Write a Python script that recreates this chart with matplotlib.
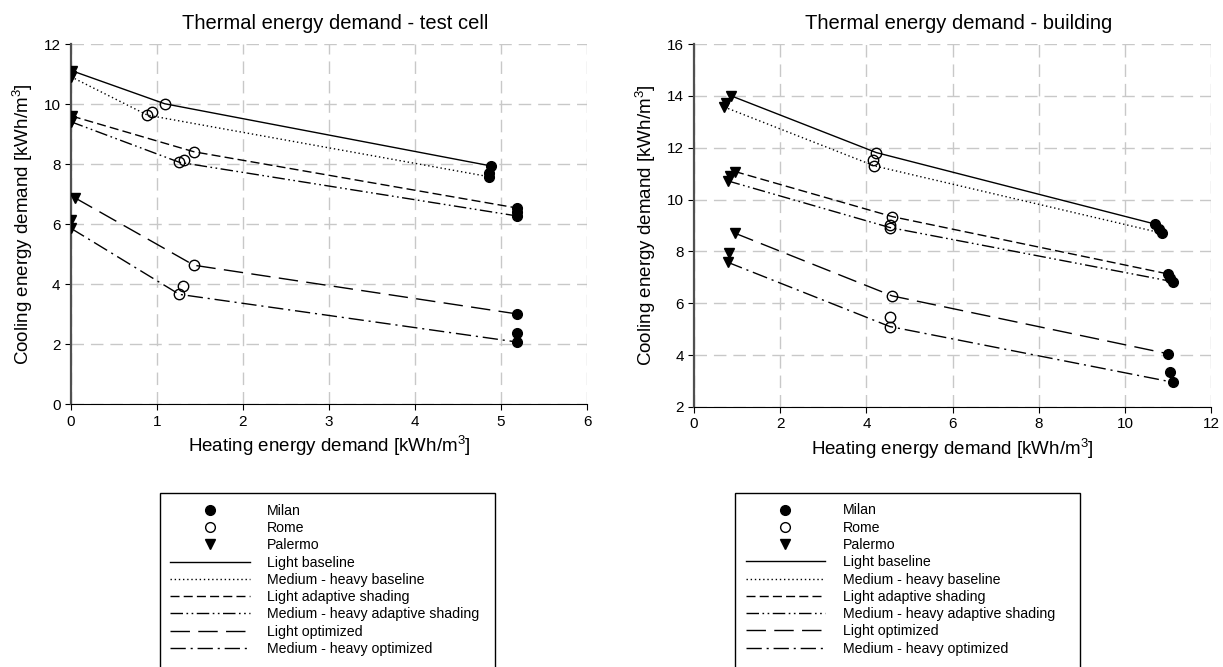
import matplotlib
matplotlib.use('Agg')
import matplotlib.pyplot as plt
from matplotlib.lines import Line2D
from matplotlib.patches import Rectangle

plt.rcParams['font.family'] = ['Liberation Sans', 'DejaVu Sans']
plt.rcParams['mathtext.fontset'] = 'custom'
plt.rcParams['mathtext.rm'] = 'Liberation Sans'
plt.rcParams['mathtext.it'] = 'Liberation Sans'

# order of the 9 points per city:
# baseline light/medium/heavy, adaptive shading light/medium/heavy, optimized light/medium/heavy
cell_palermo_x = [0.01, 0.0, 0.0, 0.01, 0.0, 0.0, 0.05, 0.0, 0.0]
cell_palermo_y = [11.11, 10.95, 10.91, 9.60, 9.45, 9.41, 6.87, 6.13, 5.86]
cell_rome_x = [1.09, 0.94, 0.89, 1.43, 1.31, 1.26, 1.43, 1.30, 1.26]
cell_rome_y = [10.01, 9.74, 9.63, 8.41, 8.13, 8.06, 4.63, 3.95, 3.66]
cell_milan_x = [4.88, 4.86, 4.86, 5.18, 5.18, 5.19, 5.18, 5.18, 5.19]
cell_milan_y = [7.94, 7.71, 7.58, 6.54, 6.41, 6.27, 3.01, 2.36, 2.07]

bldg_palermo_x = [0.86, 0.74, 0.70, 0.95, 0.83, 0.78, 0.95, 0.82, 0.78]
bldg_palermo_y = [14.0, 13.72, 13.57, 11.08, 10.89, 10.72, 8.70, 7.93, 7.58]
bldg_rome_x = [4.23, 4.16, 4.18, 4.60, 4.54, 4.54, 4.60, 4.54, 4.54]
bldg_rome_y = [11.81, 11.51, 11.30, 9.34, 9.02, 8.92, 6.28, 5.48, 5.10]
bldg_milan_x = [10.70, 10.78, 10.86, 10.99, 11.05, 11.11, 10.99, 11.05, 11.11]
bldg_milan_y = [9.05, 8.86, 8.70, 7.13, 6.97, 6.83, 4.05, 3.34, 2.95]

series_names = ['Light baseline', 'Medium - heavy baseline',
                'Light adaptive shading', 'Medium - heavy adaptive shading',
                'Light optimized', 'Medium - heavy optimized']
# index of the point each line passes through
series_idx = [0, 2, 3, 5, 6, 8]

dash_styles = ['-', (0, (1, 2)), (0, (6.5, 3)), (0, (9, 2.5, 1.2, 2.5, 1.2, 2.5)),
               (0, (14, 6)), (0, (11, 3.5, 1.5, 3.5))]


def draw_panel(ax, pal_x, pal_y, rom_x, rom_y, mil_x, mil_y, title):
    for k in range(6):
        i = series_idx[k]
        ax.plot([pal_x[i], rom_x[i], mil_x[i]], [pal_y[i], rom_y[i], mil_y[i]],
                color='black', lw=1, linestyle=dash_styles[k], zorder=2)
    ax.plot(mil_x, mil_y, 'o', color='black', ms=7, ls='none', zorder=3)
    ax.plot(rom_x, rom_y, 'o', mfc='none', mec='black', mew=1, ms=7.5, ls='none', zorder=3)
    ax.plot(pal_x, pal_y, 'v', color='black', ms=7.5, ls='none', zorder=3)
    ax.set_title(title, fontsize=14.5, pad=11, x=0.512)
    ax.set_xlabel('Heating energy demand [kWh/m$^3$]', fontsize=13.5, labelpad=4)
    ax.set_ylabel('Cooling energy demand [kWh/m$^3$]', fontsize=13.5, labelpad=6)
    ax.grid(True, color='#c8c8c8', linestyle=(0, (9, 5)), lw=1)
    ax.set_axisbelow(True)
    ax.spines['top'].set_visible(False)
    ax.spines['right'].set_visible(False)
    ax.spines['left'].set_color('#505050')
    ax.spines['left'].set_linewidth(1.6)
    ax.spines['bottom'].set_color('black')
    ax.tick_params(labelsize=11, length=4, direction='out')


fig = plt.figure(figsize=(12.23, 6.67), dpi=100)
ax1 = fig.add_axes([0.058, 0.394, 0.422, 0.540])
ax2 = fig.add_axes([0.5675, 0.390, 0.423, 0.544])

draw_panel(ax1, cell_palermo_x, cell_palermo_y, cell_rome_x, cell_rome_y,
           cell_milan_x, cell_milan_y, 'Thermal energy demand - test cell')
ax1.set_xlim(0, 6)
ax1.set_ylim(0, 12)
ax1.set_xticks(range(0, 7))
ax1.set_yticks(range(0, 13, 2))

draw_panel(ax2, bldg_palermo_x, bldg_palermo_y, bldg_rome_x, bldg_rome_y,
           bldg_milan_x, bldg_milan_y, 'Thermal energy demand - building')
ax2.set_xlim(0, 12)
ax2.set_ylim(2, 16)
ax2.set_xticks(range(0, 13, 2))
ax2.set_yticks(range(2, 17, 2))

handles = [Line2D([], [], marker='o', color='black', ls='none', ms=7),
           Line2D([], [], marker='o', mfc='none', mec='black', ls='none', ms=7),
           Line2D([], [], marker='v', color='black', ls='none', ms=7)]
for k in range(6):
    handles.append(Line2D([], [], color='black', lw=1, linestyle=dash_styles[k]))
labels = ['Milan', 'Rome', 'Palermo'] + series_names

for ax, anchor in [(ax1, (0.172, -0.247)), (ax2, (0.079, -0.237))]:
    ax.legend(handles, labels, loc='upper left', bbox_to_anchor=anchor,
              borderaxespad=0, fontsize=10.2, handlelength=5.6, handletextpad=1.25,
              labelspacing=0.23, frameon=False, borderpad=0.75)

# legend boxes run off the bottom of the page, as in the original
W, H = 1223.0, 667.0
for left, right in [(160, 495), (735, 1080)]:
    fig.patches.append(Rectangle((left / W, -0.05), (right - left) / W, 0.05 + (H - 493) / H,
                                 transform=fig.transFigure, fill=False,
                                 edgecolor='black', lw=1))

plt.savefig('out.png', dpi=100)
